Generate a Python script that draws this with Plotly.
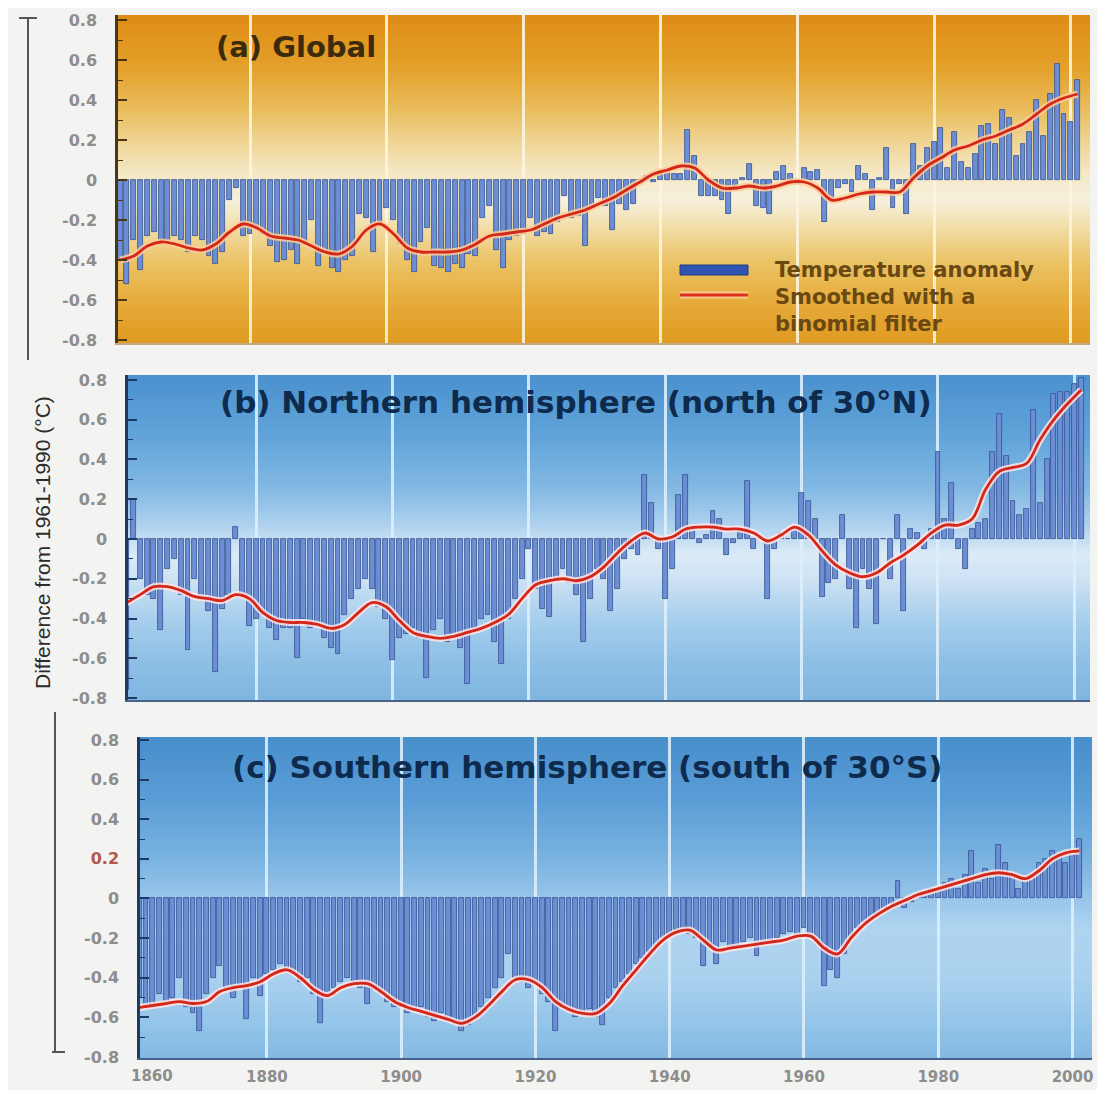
import plotly.graph_objects as go

# page is 1107x1098; the html body adds an 8px margin, so the figure is sized to fit inside it
OFF = 8
W, H = 1089, 1082

# ---------------- data ----------------
years = list(range(1861, 2002))
smooth_years = list(range(1861, 2002, 2))

global_anomaly = [
    -0.40, -0.52, -0.30, -0.45, -0.28, -0.26, -0.30, -0.30, -0.28, -0.30,
    -0.36, -0.28, -0.30, -0.38, -0.42, -0.36, -0.10, -0.04, -0.28, -0.27,
    -0.24, -0.27, -0.33, -0.41, -0.40, -0.35, -0.42, -0.32, -0.20, -0.43,
    -0.36, -0.44, -0.46, -0.40, -0.38, -0.17, -0.19, -0.36, -0.22, -0.14,
    -0.20, -0.32, -0.40, -0.46, -0.31, -0.24, -0.43, -0.44, -0.46, -0.42,
    -0.44, -0.37, -0.38, -0.19, -0.13, -0.35, -0.44, -0.30, -0.28, -0.27,
    -0.19, -0.28, -0.26, -0.27, -0.21, -0.08, -0.19, -0.18, -0.33, -0.13,
    -0.09, -0.13, -0.25, -0.12, -0.15, -0.12, 0.00, 0.02, -0.01, 0.03,
    0.05, 0.03, 0.03, 0.25, 0.12, -0.08, -0.08, -0.08, -0.10, -0.17,
    -0.05, 0.01, 0.08, -0.13, -0.14, -0.17, 0.04, 0.07, 0.03, -0.02,
    0.06, 0.04, 0.05, -0.21, -0.11, -0.04, -0.02, -0.06, 0.07, 0.03,
    -0.15, 0.01, 0.16, -0.14, -0.02, -0.17, 0.18, 0.07, 0.16, 0.19,
    0.26, 0.06, 0.24, 0.09, 0.06, 0.13, 0.27, 0.28, 0.18, 0.35,
    0.31, 0.12, 0.18, 0.24, 0.40, 0.22, 0.43, 0.58, 0.33, 0.29,
    0.50,
]
global_smooth = [
    -0.40, -0.38, -0.33, -0.31, -0.32, -0.34, -0.35, -0.32, -0.26, -0.22,
    -0.24, -0.28, -0.29, -0.30, -0.33, -0.36, -0.37, -0.33, -0.25, -0.22,
    -0.27, -0.34, -0.36, -0.36, -0.36, -0.35, -0.32, -0.28, -0.27, -0.26,
    -0.25, -0.22, -0.19, -0.17, -0.15, -0.12, -0.09, -0.05, -0.01, 0.03,
    0.05, 0.07, 0.06, 0.00, -0.04, -0.04, -0.03, -0.04, -0.03, -0.01,
    -0.01, -0.04, -0.10, -0.09, -0.07, -0.06, -0.06, -0.06, 0.01, 0.07,
    0.11, 0.15, 0.17, 0.20, 0.22, 0.25, 0.28, 0.33, 0.38, 0.41,
    0.43,
]

nh_anomaly = [
    -0.76, 0.20, -0.20, -0.28, -0.30, -0.46, -0.15, -0.10, -0.28, -0.56,
    -0.20, -0.30, -0.36, -0.67, -0.35, -0.28, 0.06, -0.28, -0.44, -0.40,
    -0.38, -0.45, -0.51, -0.45, -0.45, -0.60, -0.40, -0.45, -0.42, -0.50,
    -0.55, -0.58, -0.38, -0.30, -0.25, -0.20, -0.25, -0.34, -0.40, -0.61,
    -0.50, -0.48, -0.45, -0.50, -0.70, -0.46, -0.40, -0.52, -0.48, -0.55,
    -0.73, -0.45, -0.40, -0.38, -0.52, -0.63, -0.40, -0.30, -0.20, -0.05,
    -0.25, -0.35, -0.39, -0.20, -0.15, -0.22, -0.28, -0.52, -0.30, -0.15,
    -0.20, -0.36, -0.25, -0.10, -0.05, -0.08, 0.32, 0.18, -0.05, -0.30,
    -0.15, 0.22, 0.32, 0.05, -0.02, 0.02, 0.14, 0.10, -0.08, -0.02,
    0.04, 0.29, -0.05, 0.00, -0.30, -0.05, 0.03, 0.00, 0.05, 0.23,
    0.19, 0.10, -0.29, -0.22, -0.20, 0.12, -0.25, -0.45, -0.15, -0.25,
    -0.43, 0.00, -0.20, 0.12, -0.36, 0.05, 0.03, -0.05, 0.05, 0.44,
    0.10, 0.28, -0.05, -0.15, 0.05, 0.08, 0.10, 0.44, 0.63, 0.42,
    0.19, 0.12, 0.15, 0.65, 0.18, 0.40, 0.73, 0.74, 0.74, 0.78,
    0.81,
]
nh_smooth = [
    -0.32, -0.28, -0.24, -0.24, -0.26, -0.29, -0.30, -0.31, -0.28, -0.30,
    -0.37, -0.41, -0.42, -0.42, -0.43, -0.45, -0.43, -0.37, -0.32, -0.34,
    -0.41, -0.47, -0.49, -0.50, -0.49, -0.47, -0.45, -0.42, -0.38, -0.30,
    -0.23, -0.21, -0.20, -0.21, -0.19, -0.14, -0.07, -0.01, 0.03, 0.00,
    0.01, 0.05, 0.06, 0.06, 0.05, 0.05, 0.03, -0.01, 0.02, 0.06,
    0.02, -0.06, -0.13, -0.17, -0.19, -0.17, -0.12, -0.08, -0.03, 0.03,
    0.07, 0.07, 0.10, 0.25, 0.34, 0.36, 0.38, 0.50, 0.60, 0.68,
    0.75,
]

sh_anomaly = [
    -0.50, -0.55, -0.54, -0.48, -0.52, -0.50, -0.40, -0.55, -0.58, -0.67,
    -0.48, -0.40, -0.34, -0.45, -0.50, -0.44, -0.61, -0.40, -0.49, -0.38,
    -0.36, -0.33, -0.35, -0.38, -0.42, -0.40, -0.48, -0.63, -0.50, -0.45,
    -0.42, -0.40, -0.42, -0.45, -0.53, -0.46, -0.48, -0.52, -0.55, -0.55,
    -0.58, -0.57, -0.55, -0.60, -0.62, -0.58, -0.62, -0.63, -0.67, -0.64,
    -0.60, -0.55, -0.50, -0.45, -0.40, -0.28, -0.40, -0.42, -0.45, -0.43,
    -0.48, -0.52, -0.67, -0.55, -0.57, -0.60, -0.58, -0.56, -0.60, -0.64,
    -0.50, -0.45, -0.42, -0.38, -0.33, -0.30, -0.27, -0.24, -0.20, -0.18,
    -0.16, -0.15, -0.18, -0.20, -0.34, -0.25, -0.33, -0.22, -0.25, -0.24,
    -0.22, -0.20, -0.29, -0.22, -0.23, -0.20, -0.18, -0.17, -0.18, -0.15,
    -0.20, -0.22, -0.44, -0.36, -0.40, -0.28, -0.20, -0.15, -0.12, -0.10,
    -0.08, -0.05, -0.03, 0.09, -0.05, -0.02, 0.02, 0.03, 0.05, 0.04,
    0.08, 0.10, 0.05, 0.12, 0.24, 0.08, 0.15, 0.10, 0.27, 0.18,
    0.12, 0.05, 0.10, 0.12, 0.18, 0.20, 0.24, 0.22, 0.18, 0.22,
    0.30,
]
sh_smooth = [
    -0.55, -0.54, -0.53, -0.52, -0.53, -0.52, -0.47, -0.45, -0.44, -0.42,
    -0.38, -0.36, -0.40, -0.46, -0.49, -0.45, -0.43, -0.43, -0.47, -0.52,
    -0.55, -0.57, -0.59, -0.61, -0.63, -0.60, -0.54, -0.47, -0.41, -0.41,
    -0.45, -0.52, -0.56, -0.58, -0.58, -0.53, -0.44, -0.36, -0.28, -0.21,
    -0.17, -0.16, -0.21, -0.26, -0.25, -0.24, -0.23, -0.22, -0.21, -0.19,
    -0.19, -0.25, -0.28, -0.20, -0.13, -0.08, -0.04, -0.01, 0.02, 0.04,
    0.06, 0.08, 0.10, 0.12, 0.13, 0.12, 0.10, 0.14, 0.20, 0.23,
    0.24,
]

panel_titles = [
    "(a) Global",
    "(b) Northern hemisphere (north of 30°N)",
    "(c) Southern hemisphere (south of 30°S)",
]
legend_labels = ["Temperature anomaly", "Smoothed with a<br>binomial filter"]
y_axis_title = "Difference from 1961-1990 (°C)"

x_tick_vals = [1860, 1880, 1900, 1920, 1940, 1960, 1980, 2000]
x_tick_text = ["1860", "1880", "1900", "1920", "1940", "1960", "1980", "2000"]
y_tick_vals = [0.8, 0.6, 0.4, 0.2, 0, -0.2, -0.4, -0.6, -0.8]
y_tick_text = ["0.8", "0.6", "0.4", "0.2", "0", "-0.2", "-0.4", "-0.6", "-0.8"]
y_minor_vals = [0.7, 0.5, 0.3, 0.1, -0.1, -0.3, -0.5, -0.7]

for s in (global_anomaly, nh_anomaly, sh_anomaly):
    assert len(s) == len(years)
for s in (global_smooth, nh_smooth, sh_smooth):
    assert len(s) == len(smooth_years)


# ---------------- helpers (page pixels -> paper fractions) ----------------
def px_x(p):
    return (p - OFF) / W


def px_y(p):
    return 1 - (p - OFF) / H


def hex2rgb(h):
    h = h.lstrip("#")
    return tuple(int(h[i:i + 2], 16) for i in (0, 2, 4))


def color_at(stops, v):
    if v >= stops[0][0]:
        return stops[0][1]
    if v <= stops[-1][0]:
        return stops[-1][1]
    for (v1, c1), (v2, c2) in zip(stops[:-1], stops[1:]):
        if v1 >= v >= v2:
            t = (v1 - v) / (v1 - v2)
            a, b = hex2rgb(c1), hex2rgb(c2)
            r = [round(a[i] + (b[i] - a[i]) * t) for i in range(3)]
            return "rgb(%d,%d,%d)" % tuple(r)
    return stops[-1][1]


panels = [
    dict(x0=118, x1=1090, y0=15, y1=343, xr=[1860.7, 2002.8], yr=[-0.815, 0.825],
         stops=[(0.82, "#DE8C16"), (0.55, "#E4A22C"), (0.35, "#EABD5E"), (0.18, "#F0D698"),
                (0.03, "#F4E8C6"), (-0.1, "#F6F0DC"), (-0.22, "#F2E0AE"), (-0.4, "#EBC468"),
                (-0.6, "#E6AC3C"), (-0.82, "#E09A20")],
         grid="rgba(252,244,222,0.9)", spine="#4a3514", tick="#4a3514",
         title_color="#3b2a0c", halo="rgba(255,205,150,0.85)"),
    dict(x0=128, x1=1090, y0=375, y1=700, xr=[1861.2, 2002.3], yr=[-0.81, 0.825],
         stops=[(0.83, "#4A91CE"), (0.5, "#63A5DA"), (0.25, "#83B9E3"), (0.08, "#ACD0EE"),
                (-0.08, "#DCEBF7"), (-0.2, "#CDE2F4"), (-0.4, "#A8CFEC"), (-0.6, "#8FC0E6"),
                (-0.82, "#7EB5E1")],
         grid="rgba(220,238,252,0.9)", spine="#1b3a66", tick="#1b3a66",
         title_color="#0e2a4c", halo="rgba(255,228,228,0.85)"),
    dict(x0=140, x1=1092, y0=737, y1=1058, xr=[1861.1, 2002.9], yr=[-0.805, 0.815],
         stops=[(0.82, "#478ECB"), (0.5, "#5B9DD6"), (0.2, "#7AB3E0"), (0.0, "#98C5EA"),
                (-0.15, "#AFD4F0"), (-0.4, "#AAD1EE"), (-0.6, "#97C6EA"), (-0.82, "#80B7E2")],
         grid="rgba(220,238,252,0.9)", spine="#1b3a66", tick="#1b3a66",
         title_color="#0e2a4c", halo="rgba(255,228,228,0.85)"),
]

series = [
    (global_anomaly, global_smooth),
    (nh_anomaly, nh_smooth),
    (sh_anomaly, sh_smooth),
]

fig = go.Figure()
shapes = []
annotations = []
layout_axes = {}

tick_font = dict(family="DejaVu Sans", size=16, color="#8d8d8d", weight="bold")
xtick_font = dict(family="DejaVu Sans", size=15, color="#8d8d8d", weight="bold")
title_specs = [(214, 47, 29), (218, 402, 31), (230, 767, 31)]

for i, (p, (bars, smooth)) in enumerate(zip(panels, series)):
    n = "" if i == 0 else str(i + 1)
    xa, ya = "x" + n, "y" + n

    fig.add_trace(go.Bar(
        x=years, y=bars, xaxis=xa, yaxis=ya, width=0.72,
        marker=dict(color="#6C8ED5", line=dict(color="#34508F", width=0.8)),
        showlegend=False, hoverinfo="x+y"))
    fig.add_trace(go.Scatter(
        x=smooth_years, y=smooth, xaxis=xa, yaxis=ya, mode="lines",
        line=dict(color=p["halo"], width=7, shape="spline", smoothing=1.0),
        showlegend=False, hoverinfo="skip"))
    fig.add_trace(go.Scatter(
        x=smooth_years, y=smooth, xaxis=xa, yaxis=ya, mode="lines",
        line=dict(color="#D42619", width=2.8, shape="spline", smoothing=1.0),
        showlegend=False, hoverinfo="x+y"))

    # gradient background made of overlapping bands (no seams)
    lo, hi = p["yr"]
    nb = 110
    step = (hi - lo) / nb
    for k in range(nb):
        a = lo + k * step
        b = min(hi, a + 2 * step)
        shapes.append(dict(
            type="rect", xref=xa + " domain", yref=ya, x0=0, x1=1,
            y0=a, y1=b, fillcolor=color_at(p["stops"], a + step / 2),
            line=dict(width=0), layer="below"))

    ytext = list(y_tick_text)
    if i == 2:
        ytext[3] = '<span style="color:#b5584c">0.2</span>'

    layout_axes["xaxis" + n] = dict(
        domain=[px_x(p["x0"]), px_x(p["x1"])], range=p["xr"], anchor=ya,
        tickmode="array", tickvals=x_tick_vals, ticktext=x_tick_text,
        showticklabels=(i == 2), ticks="", automargin=False,
        showgrid=True, gridcolor=p["grid"], gridwidth=2.5, zeroline=False,
        showline=True, linecolor="rgba(30,60,110,0.8)" if i else "rgba(150,90,20,0.5)",
        linewidth=2 if i == 2 else 1.5,
        tickfont=xtick_font, ticklabelstandoff=4, fixedrange=True)
    layout_axes["yaxis" + n] = dict(
        domain=[px_y(p["y1"]), px_y(p["y0"])], range=p["yr"], anchor=xa,
        tickmode="array", tickvals=y_tick_vals, ticktext=ytext, automargin=False,
        ticks="inside", ticklen=9, tickwidth=1.5, tickcolor=p["tick"],
        minor=dict(tickvals=y_minor_vals, ticks="inside", ticklen=5, tickwidth=1.2,
                   tickcolor=p["tick"], showgrid=False),
        showgrid=False, zeroline=False, showline=True, linecolor=p["spine"], linewidth=2.5,
        tickfont=tick_font, ticklabelstandoff=15, fixedrange=True)

    tx, ty, ts = title_specs[i]
    annotations.append(dict(
        text=panel_titles[i], xref="paper", yref="paper",
        x=px_x(tx), y=px_y(ty), xanchor="left", yanchor="middle",
        showarrow=False,
        font=dict(family="DejaVu Sans", size=ts, color=p["title_color"], weight="bold")))

# first year label, drawn inside the panel edge as in the original
annotations.append(dict(
    text=x_tick_text[0], xref="paper", yref="paper", x=px_x(152), y=px_y(1076),
    xanchor="center", yanchor="middle", showarrow=False, font=xtick_font))

# legend (panel a)
shapes.append(dict(type="rect", xref="paper", yref="paper",
                   x0=px_x(680), x1=px_x(748), y0=px_y(275), y1=px_y(265),
                   fillcolor="#2F55B0", line=dict(color="#1f3a80", width=1), layer="above"))
shapes.append(dict(type="line", xref="paper", yref="paper",
                   x0=px_x(680), x1=px_x(748), y0=px_y(295), y1=px_y(295),
                   line=dict(color="rgba(255,205,150,0.9)", width=7), layer="above"))
shapes.append(dict(type="line", xref="paper", yref="paper",
                   x0=px_x(680), x1=px_x(748), y0=px_y(295), y1=px_y(295),
                   line=dict(color="#E0301C", width=3), layer="above"))
legend_font = dict(family="DejaVu Sans", size=21, color="#6a4812", weight="bold")
annotations.append(dict(
    text=legend_labels[0], xref="paper", yref="paper", x=px_x(773), y=px_y(270),
    xanchor="left", yanchor="middle", showarrow=False, font=legend_font))
annotations.append(dict(
    text=legend_labels[1], xref="paper", yref="paper", x=px_x(773), y=px_y(283),
    xanchor="left", yanchor="top", showarrow=False, align="left", font=legend_font))

# y axis title
annotations.append(dict(
    text=y_axis_title, xref="paper", yref="paper", x=px_x(43), y=px_y(543),
    xanchor="center", yanchor="middle", textangle=-90, showarrow=False,
    font=dict(family="Liberation Sans Narrow, Liberation Sans, Arial", size=21, color="#2b2b2b")))

# bracket lines at the left
bracket = "#555555"
for x0, y0, x1, y1 in [(28, 18, 28, 360), (19, 18, 37, 18), (55, 712, 55, 1052), (52, 1052, 65, 1052)]:
    shapes.append(dict(type="line", xref="paper", yref="paper",
                       x0=px_x(x0), x1=px_x(x1), y0=px_y(y0), y1=px_y(y1),
                       line=dict(color=bracket, width=2)))

fig.update_layout(
    width=W, height=H, autosize=False,
    margin=dict(l=0, r=0, t=0, b=0, pad=0, autoexpand=False),
    paper_bgcolor="#F3F3F1", plot_bgcolor="#F3F3F1",
    showlegend=False, bargap=0,
    shapes=shapes, annotations=annotations,
    **layout_axes,
)

fig.write_html("out.html")
